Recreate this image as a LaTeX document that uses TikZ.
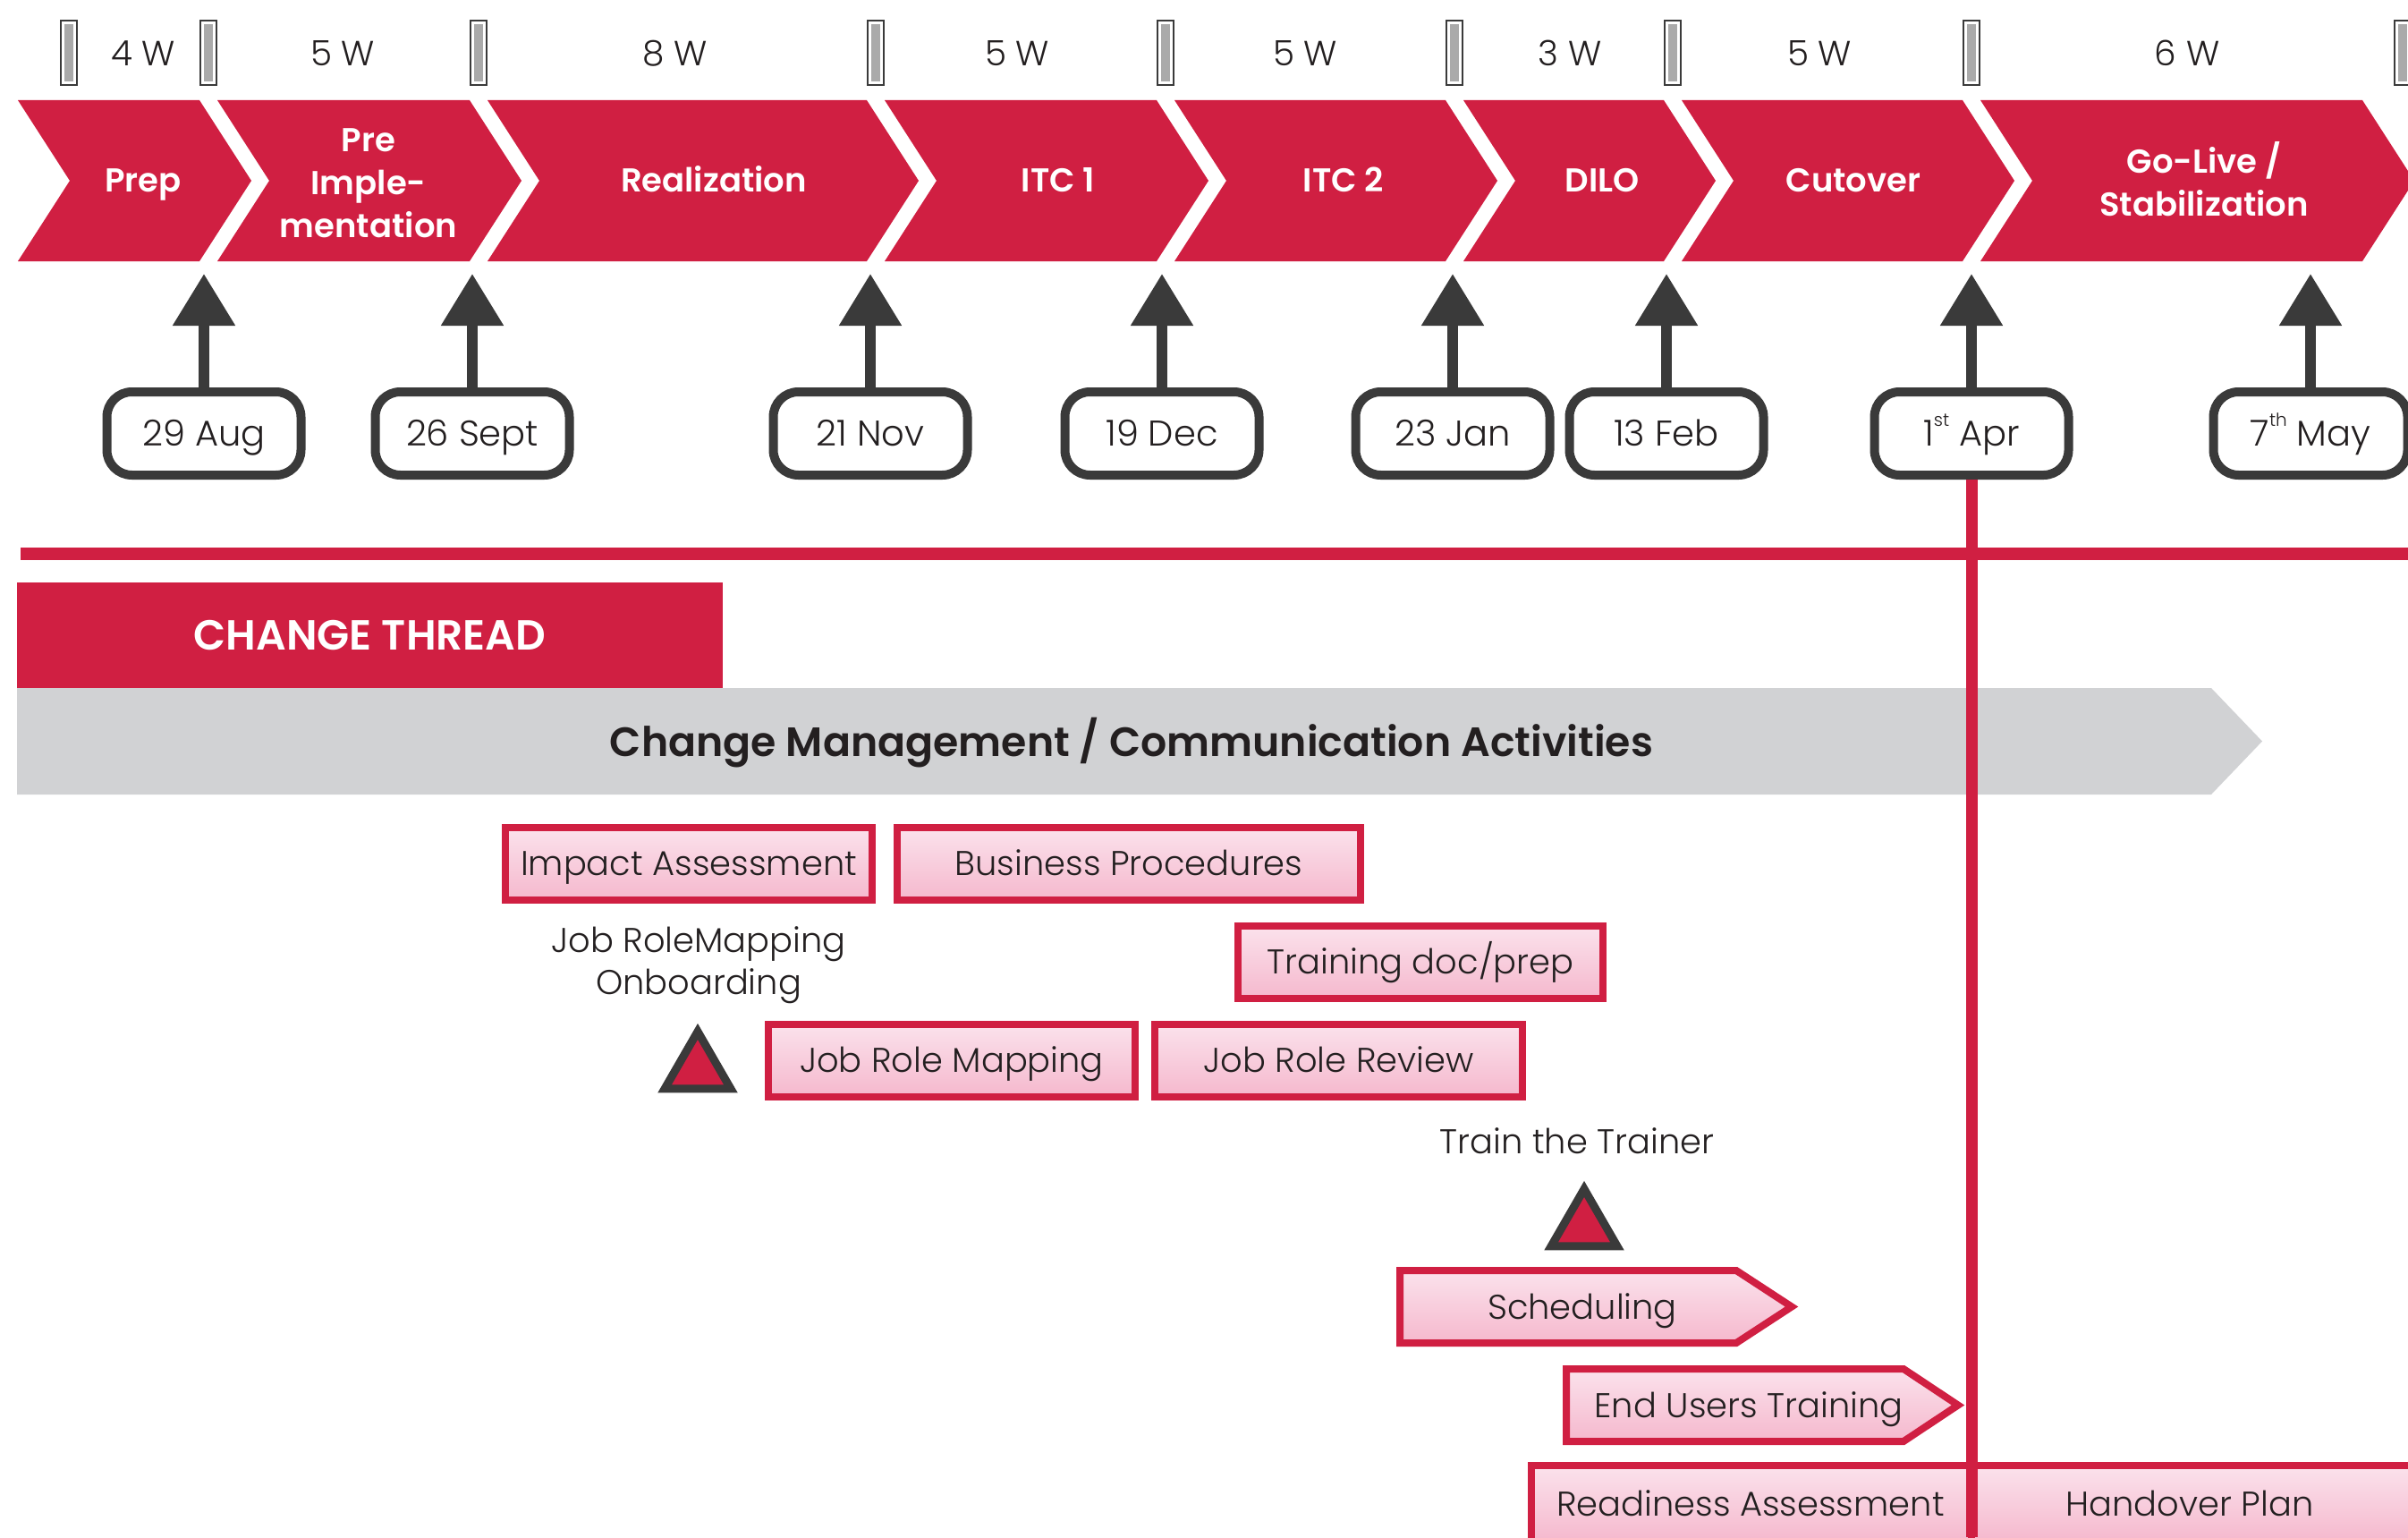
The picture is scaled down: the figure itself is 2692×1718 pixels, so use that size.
\documentclass[tikz,border=0pt]{standalone}
\usepackage{fontspec}
\IfFontExistsTF{Poppins Light}
 {\IfFontExistsTF{Poppins SemiBold}
   {\setmainfont{Poppins Light}[BoldFont={Poppins SemiBold}]}
   {\setmainfont{Poppins}}}
 {\setmainfont{Poppins}}
\usetikzlibrary{arrows.meta,shapes.geometric}
\definecolor{cred}{RGB}{208,31,66}
\definecolor{cdark}{RGB}{58,58,58}
\definecolor{ctext}{RGB}{35,31,32}
\definecolor{cband}{RGB}{209,210,212}
\definecolor{cbar}{RGB}{170,170,170}
\definecolor{pinktop}{RGB}{251,226,236}
\definecolor{pinkbot}{RGB}{245,184,205}
\newcommand\mychev[2]{\fill[cred] (#1,112) -- (#2,112) -- ({#2+58},202) -- (#2,292) -- (#1,292) -- ({#1+58},202) -- cycle;}
\newcommand\supsm[1]{\raisebox{0.55em}{\fontsize{10}{10}\selectfont #1}}
\begin{document}
\begin{tikzpicture}[x=0.5pt,y=-0.5pt,
  wbar/.style={draw=cdark,line width=1pt,fill=white,minimum width=9pt,minimum height=36pt,inner sep=0pt,
    path picture={\fill[cbar] ([xshift=2pt,yshift=-2pt]path picture bounding box.north west) rectangle ([xshift=-2pt,yshift=2pt]path picture bounding box.south east);}},
  weeks/.style={font=\fontsize{19.5}{23}\selectfont,text=ctext,inner sep=0pt,text height=13.6pt,text depth=0pt},
  chevtext/.style={font=\fontsize{18.5}{24}\selectfont\bfseries,text=white,align=center,inner sep=0pt},
  chevone/.style={chevtext,text height=12.9pt,text depth=0pt},
  datebox/.style={draw=cdark,line width=5pt,rounded corners=14pt,fill=white,minimum width=108.5pt,minimum height=46.5pt,inner sep=0pt,
    font=\fontsize{20}{24}\selectfont,text=ctext,text height=14pt,text depth=0pt},
  milearrow/.style={draw=cdark,line width=6pt,-{Triangle[width=33.5pt,length=29pt]}},
  pinkbox/.style={draw=cred,line width=4pt,top color=pinktop,bottom color=pinkbot,minimum height=40.5pt,inner sep=0pt,
    font=\fontsize{19.2}{24}\selectfont,text=ctext,text height=13.4pt,text depth=0pt},
  pinkpath/.style={draw=cred,line width=4pt,top color=pinktop,bottom color=pinkbot},
  label/.style={font=\fontsize{19.2}{23.5}\selectfont,text=ctext,align=center,inner sep=0pt},
  labelone/.style={label,text height=13.4pt,text depth=0pt},
  tri/.style={regular polygon,regular polygon sides=3,draw=cdark,line width=4.5pt,fill=cred,minimum size=42.7pt,inner sep=0pt}
]
\clip (0,0) rectangle (2692,1718);
\fill[white] (0,0) rectangle (2692,1718);

% week bars
\foreach \x/\n in {77/1,233/2,535/3,979/4,1303/5,1626/6,1870/7,2204/8,2686/9}
  \node[wbar] (bar\n) at (\x,59) {};
% week durations
\node[weeks] (w1) at (160,60) {4 W};
\node[weeks] (w2) at (383,60) {5 W};
\node[weeks] (w3) at (755,60) {8 W};
\node[weeks] (w4) at (1137,60) {5 W};
\node[weeks] (w5) at (1459,60) {5 W};
\node[weeks] (w6) at (1755,60) {3 W};
\node[weeks] (w7) at (2034,60) {5 W};
\node[weeks] (w8) at (2445,60) {6 W};

% phase chevrons
\mychev{20}{223}
\mychev{243}{525}
\mychev{545}{969}
\mychev{989}{1293}
\mychev{1313}{1616}
\mychev{1636}{1860}
\mychev{1880}{2194}
\mychev{2214}{2641}
\node[chevone] (p1) at (160,202) {Prep};
\node[chevtext] (p2) at (412,205) {Pre\\Imple-\\mentation};
\node[chevone] (p3) at (798,202) {Realization};
\node[chevone] (p4) at (1183,202) {ITC 1};
\node[chevone] (p5) at (1502,202) {ITC 2};
\node[chevone] (p6) at (1791,202) {DILO};
\node[chevone] (p7) at (2072,202) {Cutover};
\node[chevtext] (p8) at (2464,200) {Go-Live /\\Stabilization};

% milestone dates
\node[datebox] (d1) at (228,484.5) {29 Aug};
\node[datebox] (d2) at (528,484.5) {26 Sept};
\node[datebox] (d3) at (973,484.5) {21 Nov};
\node[datebox] (d4) at (1299,484.5) {19 Dec};
\node[datebox] (d5) at (1624,484.5) {23 Jan};
\node[datebox] (d6) at (1863,484.5) {13 Feb};
\node[datebox] (d7) at (2204,484.5) {1\supsm{st} Apr};
\node[datebox] (d8) at (2583,484.5) {7\supsm{th} May};
\coordinate (arrtop) at (0,306);
\foreach \n in {1,...,8}
  \draw[milearrow] (d\n.north) -- (d\n.north |- arrtop);

% separator line
\fill[cred] (23,612) rectangle (2692,626);

% change thread header
\node[fill=cred,minimum width=394.5pt,minimum height=59pt,inner sep=0pt,text=white,
  font=\fontsize{23.5}{26}\selectfont\bfseries,text height=16.4pt,text depth=0pt] (ct) at (413.5,710) {CHANGE THREAD};

% grey band
\fill[cband] (19,769) -- (2472,769) -- (2529,828.5) -- (2472,888) -- (19,888) -- cycle;
\node[font=\fontsize{22.9}{26}\selectfont\bfseries,text=ctext,inner sep=0pt,text height=16pt,text depth=0pt] (band) at (1265,829)
  {Change Management / Communication Activities};

% activity boxes
\node[pinkbox,minimum width=205pt] (ia) at (770,965.5) {Impact Assessment};
\node[pinkbox,minimum width=259pt] (bp) at (1262,965.5) {Business Procedures};
\node[pinkbox,minimum width=204pt] (td) at (1588,1075.5) {Training doc/prep};
\node[pinkbox,minimum width=205pt] (jrm) at (1064,1185) {Job Role Mapping};
\node[pinkbox,minimum width=205.5pt] (jrr) at (1496.5,1185) {Job Role Review};

\node[label] (onb) at (781,1079) {Job RoleMapping\\Onboarding};
\node[tri] (t1) at (780,1195.6) {};
\node[labelone] (ttt) at (1763,1276) {Train the Trainer};
\node[tri] (t2) at (1771,1371.6) {};

\path[pinkpath] (1565,1420) -- (1941,1420) -- (2003,1460.5) -- (1941,1501) -- (1565,1501) -- cycle;
\node[labelone] (sch) at (1769,1461) {Scheduling};
\path[pinkpath] (1751,1530) -- (2128,1530) -- (2189,1570.5) -- (2128,1611) -- (1751,1611) -- cycle;
\node[labelone] (eut) at (1955,1571) {End Users Training};

\path[pinkpath] (1712,1638) rectangle (2204,1724);
\path[pinkpath] (2204,1638) rectangle (2700,1724);
\node[labelone] (ra) at (1957,1681) {Readiness Assessment};
\node[labelone] (hp) at (2448,1681) {Handover Plan};

% go-live line
\coordinate (bottomend) at (0,1718);
\draw[cred,line width=6.5pt] (d7.south) -- (d7.south |- bottomend);
\end{tikzpicture}
\end{document}
